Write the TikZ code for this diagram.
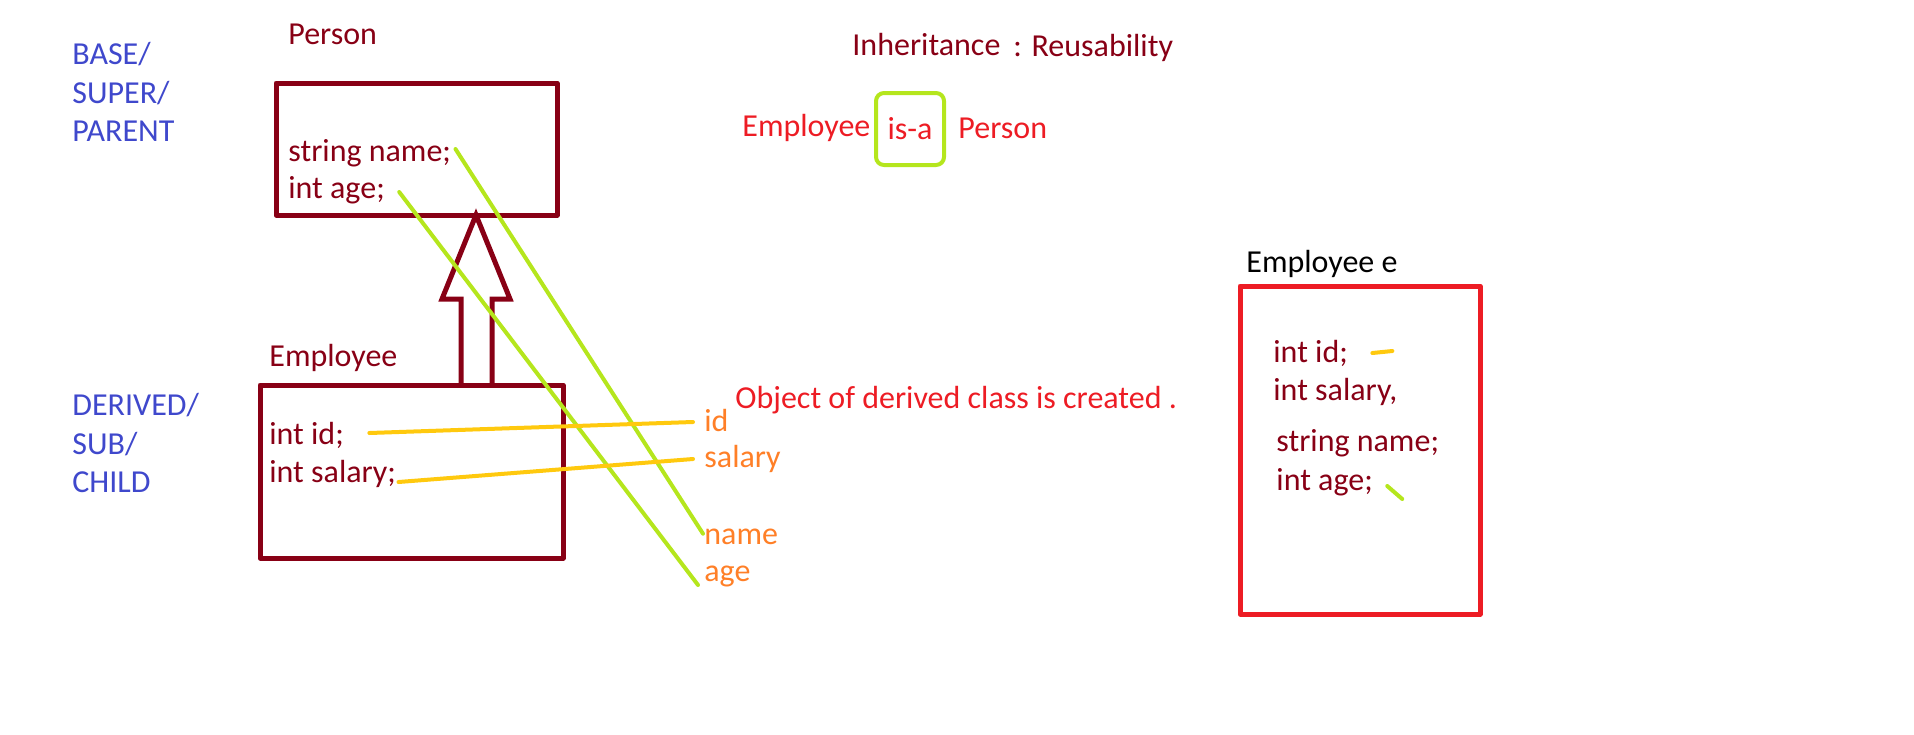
\documentclass[tikz,border=0pt]{standalone}
\usepackage{fontspec}
\setmainfont{Carlito}
\usetikzlibrary{positioning}
\definecolor{darkred}{RGB}{136,0,21}
\definecolor{indigo}{RGB}{63,72,204}
\definecolor{paintred}{RGB}{237,28,36}
\definecolor{lime}{RGB}{181,230,29}
\definecolor{amber}{RGB}{255,201,14}
\definecolor{tangerine}{RGB}{255,127,39}

\begin{document}
\begin{tikzpicture}[x=0.5pt,y=-0.5pt,line cap=round,line join=round,
  font=\fontsize{16}{19.25}\selectfont,
  txt/.style={anchor=west,inner sep=0pt,align=left},
  classbox/.style={draw=darkred,line width=2.5pt,line cap=rect,inner sep=0pt},
  objbox/.style={draw=paintred,line width=2.5pt,line cap=rect,inner sep=0pt},
  yellowlink/.style={amber,line width=2pt},
  greenlink/.style={lime,line width=2pt}]
  \useasboundingbox (0,0) rectangle (1914,734);

  % side labels
  \node[txt,indigo] (base) at (72,92) {BASE/\\SUPER/\\PARENT};
  \node[txt,indigo] (derived) at (72,443) {DERIVED/\\SUB/\\CHILD};

  % class boxes
  \node[classbox,minimum width=140.5pt,minimum height=66pt] (person) at (416.5,149) {};
  \node[classbox,minimum width=151.5pt,minimum height=86.5pt] (employee) at (411.5,471.5) {};
  \node[txt,darkred] (persontitle) at (288,34) {Person};
  \node[txt,darkred] (emptitle) at (269,358) {Employee};

  \node[txt,darkred] (namefield) at (288,153) {string name;};
  \node[txt,darkred] (agefield) at (288,190) {int age;};
  \node[txt,darkred] (idfield) at (269,435) {int id;};
  \node[txt,darkred] (salfield) at (269,474) {int salary;};

  % hollow inheritance arrow
  \draw[darkred,line width=2.5pt,line cap=butt,line join=miter]
    (461,385) -- (461,299) -- (442,299) -- (476,215) -- (510,299) -- (492,299) -- (492,385);

  % member labels
  \node[txt,tangerine] (idlbl) at (704,420) {id};
  \node[txt,tangerine] (sallbl) at (704,459) {salary};
  \node[txt,tangerine] (namelbl) at (704,537) {name};
  \node[txt,tangerine] (agelbl) at (704,576) {age};

  \draw[greenlink] ([xshift=2pt,yshift=2pt]namefield.east) -- ([xshift=-0.5pt,yshift=-2.5pt]namelbl.north west);
  \draw[greenlink] ([xshift=7pt,yshift=-1pt]agefield.east) -- ([xshift=-3pt,yshift=-4.5pt]agelbl.west);
  \draw[yellowlink] ([xshift=12.5pt,yshift=1pt]idfield.east) -- ([xshift=-5.5pt,yshift=-1pt]idlbl.west);
  \draw[yellowlink] ([xshift=1pt,yshift=-4pt]salfield.east) -- ([xshift=-5.5pt]sallbl.west);

  % heading
  \node[txt,darkred] (inherit) at (852,45) {Inheritance};
  \node[txt,darkred] (reuse) at (1013,48) {: Reusability};
  \node[txt,paintred] (isaleft) at (742,128) {Employee};
  \node[draw=lime,line width=2pt,rounded corners=4pt,inner sep=0pt,
    minimum width=34pt,minimum height=36pt,text=paintred] (isa) at (910,129) {is-a\hspace{3.5pt}};
  \node[txt,paintred] (isaright) at (958,128) {Person};
  \node[txt,paintred] (created) at (735,400) {Object of derived class is created .};

  % object of derived class
  \node[txt] (objtitle) at (1246,264) {Employee e};
  \node[objbox,minimum width=120pt,minimum height=164pt] (obj) at (1360,450) {};
  \node[txt,darkred] (objid) at (1273,353) {int id;};
  \node[txt,darkred] (objsal) at (1273,392) {int salary,};
  \node[txt,darkred] (objname) at (1276,443) {string name;};
  \node[txt,darkred] (objage) at (1276,482) {int age;};
  \draw[yellowlink] ([xshift=12pt]objid.east) -- ++(20,-2);
  \draw[greenlink] ([xshift=7pt,yshift=-2pt]objage.east) -- ++(15,13);
\end{tikzpicture}
\end{document}
